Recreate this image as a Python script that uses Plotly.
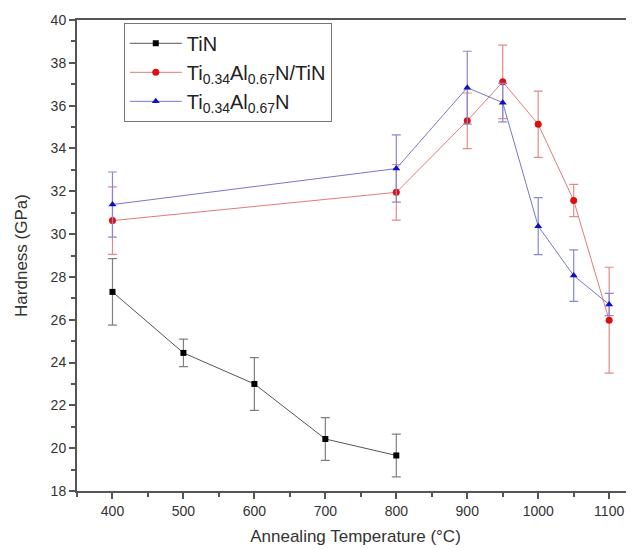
import plotly.graph_objects as go

temps_tin = [400, 500, 600, 700, 800]
hard_tin = [27.3, 24.45, 23.0, 20.43, 19.66]
err_tin = [1.55, 0.64, 1.23, 1.0, 1.0]

temps_ml = [400, 800, 900, 950, 1000, 1050, 1100]
hard_ml = [30.63, 31.95, 35.29, 37.11, 35.13, 31.57, 25.98]
err_ml = [1.58, 1.3, 1.3, 1.72, 1.55, 0.75, 2.47]

temps_tialn = [400, 800, 900, 950, 1000, 1050, 1100]
hard_tialn = [31.38, 33.06, 36.84, 36.14, 30.37, 28.06, 26.71]
err_tialn = [1.52, 1.57, 1.7, 0.9, 1.33, 1.2, 0.52]

names = ["TiN", "Ti<sub>0.34</sub>Al<sub>0.67</sub>N/TiN", "Ti<sub>0.34</sub>Al<sub>0.67</sub>N"]

fig = go.Figure()
fig.add_trace(go.Scatter(
    x=temps_tin, y=hard_tin, name=names[0], mode="lines+markers",
    line=dict(color="#555555", width=1),
    marker=dict(symbol="square", size=6, color="#000000"),
    error_y=dict(type="data", array=err_tin, visible=True, color="#808080", thickness=1.2, width=4.5),
))
fig.add_trace(go.Scatter(
    x=temps_ml, y=hard_ml, name=names[1], mode="lines+markers",
    line=dict(color="#e07a7a", width=1),
    marker=dict(symbol="circle", size=7, color="#dd1010"),
    error_y=dict(type="data", array=err_ml, visible=True, color="#e58a8a", thickness=1.2, width=4.5),
))
fig.add_trace(go.Scatter(
    x=temps_tialn, y=hard_tialn, name=names[2], mode="lines+markers",
    line=dict(color="#7777cc", width=1),
    marker=dict(symbol="triangle-up", size=7, color="#1010c0"),
    error_y=dict(type="data", array=err_tialn, visible=True, color="#8888d0", thickness=1.2, width=4.5),
))

font_family = "Liberation Sans, Arial, sans-serif"
fig.update_layout(
    width=626, height=541,
    margin=dict(l=69, r=0, t=12, b=58),
    paper_bgcolor="white", plot_bgcolor="white",
    font=dict(family=font_family, color="#222222"),
    showlegend=True,
    legend=dict(
        x=0.084, y=0.994, xanchor="left", yanchor="top",
        bordercolor="#777777", borderwidth=1, bgcolor="white",
        font=dict(size=20, family=font_family, color="#222222"),
        tracegroupgap=0, itemwidth=52,
    ),
    xaxis=dict(
        range=[350, 1135], tick0=400, dtick=100, automargin=False,
        showgrid=False, zeroline=False,
        showline=True, linecolor="#555555", linewidth=2, mirror=True,
        ticks="outside", ticklen=6, tickwidth=1.5, tickcolor="#555555",
        minor=dict(dtick=50, tick0=400, ticks="outside", ticklen=4, tickcolor="#555555", tickwidth=1.5),
        tickfont=dict(size=14, color="#333333"),
        title=dict(text="Annealing Temperature (°C)", font=dict(size=17, color="#333333"), standoff=12),
    ),
    yaxis=dict(
        range=[18, 40], tick0=18, dtick=2, automargin=False,
        showgrid=False, zeroline=False,
        showline=True, linecolor="#555555", linewidth=2, mirror=False,
        ticks="outside", ticklen=6, tickwidth=1.5, tickcolor="#555555",
        minor=dict(dtick=1, ticks="outside", ticklen=4, tickcolor="#555555", tickwidth=1.5),
        tickfont=dict(size=14, color="#333333"),
        title=dict(text="Hardness (GPa)", font=dict(size=17, color="#333333"), standoff=19),
    ),
)

fig.write_html("out.html")
